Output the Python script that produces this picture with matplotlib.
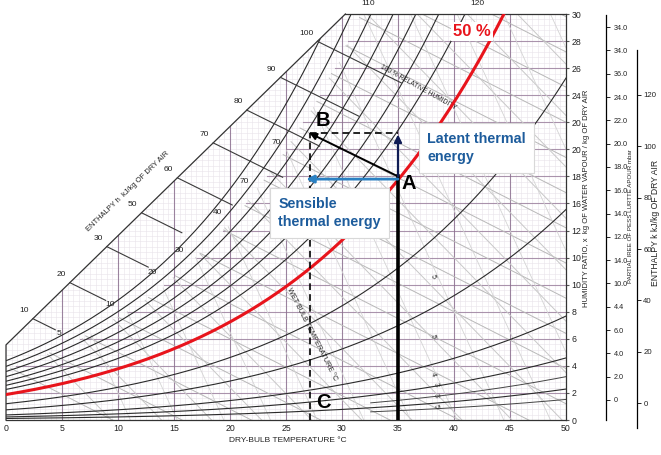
import numpy as np
import matplotlib
matplotlib.use("Agg")
import matplotlib.pyplot as plt
from matplotlib.patches import Polygon

# ---- values ----
temp_ticks = [0, 5, 10, 15, 20, 25, 30, 35, 40, 45, 50]
hum_ticks = [0, 2, 4, 6, 8, 10, 12, 14, 16, 18, 20, 22, 24, 26, 28, 30]
hum_labels = ['0', '2', '4', '6', '8', '10', '10', '12', '16', '18', '20', '20', '24', '26', '28', '30']

rh_black = [3, 6, 10, 20, 32, 60, 68, 76, 85, 95, 105, 116]
rh_red = 50
rh_short = [2.0, 4.2]
short_start_T = 32.5

edge_T = [0, 50, 50, 30.3, 0]
edge_W = [0, 0, 30, 30, 5.55]

enth_labels = ['10', '20', '30', '50', '60', '70', '80', '90', '100']
enth_T = [2.4, 5.7, 9.0, 12.1, 15.3, 18.5, 21.5, 24.5, 27.8]
enth_len = [2.0, 3.2, 3.7, 3.6, 4.9, 6.2, 6.5, 7.0, 7.5]
enth_top_labels = ['110', '120']
enth_top_T = [32.3, 42.1]

wb_labels = ['5', '10', '20', '30', '40', '70', '70']
wb_T = [4.7, 9.3, 13.1, 15.5, 18.9, 21.3, 24.1]
wb_W = [6.4, 8.5, 10.9, 12.5, 15.3, 17.6, 20.5]

small_labels = ['5', '5', '4', '3', '3', '5']
small_T = [38.1, 38.1, 38.1, 38.4, 38.4, 38.4]
small_W = [10.6, 6.2, 3.4, 2.6, 1.8, 1.0]

pp_labels = ['0', '2.0', '4.0', '6.0', '4.4', '10.0', '14.0', '12.0', '14.0',
             '16.0', '18.0', '20.0', '22.0', '24.0', '36.0', '34.0', '34.0']
enth_right_ticks = [0, 20, 40, 60, 80, 100, 120]

point_A = (35, 18)
point_B = (27.1, 21.2)
sensible_W = 17.8

W, H = 661, 455


def fx(px):
    return px / W


def fy(py):
    return 1 - py / H


def w_rh(T, rh):
    pws = 0.61094 * np.exp(17.625 * T / (T + 243.04))
    pw = rh / 100 * pws
    return 622 * pw / (101.325 - pw)


def w_edge(T):
    return edge_W[4] + (edge_W[3] - edge_W[4]) / edge_T[3] * T


plt.rcParams['font.family'] = ['Liberation Sans', 'DejaVu Sans']
fig = plt.figure(figsize=(W / 100, H / 100), dpi=100)
ax = fig.add_axes([fx(6), 1 - 420 / H, 560 / W, 406 / H])
ax.set_xlim(0, 50)
ax.set_ylim(0, 30)

clip = Polygon(np.column_stack([edge_T, edge_W]), closed=True, transform=ax.transData,
               facecolor='none', edgecolor='none')
ax.add_patch(clip)


def clipped(artists):
    for a in artists:
        a.set_clip_path(clip)


T = np.linspace(0, 50, 500)
w_sat = w_rh(T, 100)


def below_sat(w):
    return np.where(w <= w_sat, w, np.nan)


# fine background mesh
clipped([ax.vlines(np.arange(0, 50, 0.5), 0, 30, color='#e8e4ea', lw=0.4)])
clipped([ax.hlines(np.arange(0, 30, 0.4), 0, 50, color='#e8e4ea', lw=0.4)])

# purple main grid
clipped([ax.vlines(temp_ticks[1:-1], 0, 30, color='#7e5f82', lw=0.8, alpha=0.75)])
for w in hum_ticks[1:-1]:
    clipped(ax.plot(T, below_sat(np.full_like(T, w)), color='#8c6d8f', lw=0.8, alpha=0.7))

# gray line families (below saturation)
for c in np.arange(4, 60, 2.6):
    clipped(ax.plot(T, below_sat(c - 0.42 * T), color='#b8b8b8', lw=0.7))
for c in np.arange(8, 75, 3.8):
    clipped(ax.plot(T, below_sat(c - 0.85 * T), color='#c8c8c8', lw=0.7))
for c in np.arange(20, 120, 7.5):
    clipped(ax.plot(T, below_sat(c - 1.8 * T), color='#d4d4d4', lw=0.6))

# relative humidity curves
for rh in rh_black:
    clipped(ax.plot(T, w_rh(T, rh), color='#2a2a2a', lw=0.8))
Ts = T[T >= short_start_T]
for rh in rh_short:
    clipped(ax.plot(Ts, w_rh(Ts, rh), color='#444444', lw=0.7))
clipped(ax.plot(T, w_rh(T, rh_red), color='#e8141c', lw=2.2, zorder=5))

# chart boundary
ax.plot([edge_T[3], edge_T[4], 0], [edge_W[3], edge_W[4], 0], color='#333333', lw=0.9, clip_on=False)
ax.plot([edge_T[3], 50], [30, 30], color='#333333', lw=0.9, clip_on=False)
for side in ['left', 'top']:
    ax.spines[side].set_visible(False)
for side in ['right', 'bottom']:
    ax.spines[side].set_linewidth(0.9)
    ax.spines[side].set_color('#333333')

# enthalpy scale on the diagonal
for lab, t0, ln in zip(enth_labels, enth_T, enth_len):
    w0 = w_edge(t0)
    ax.plot([t0, t0 + ln], [w0, w0 - 0.41 * ln], color='#3a3a3a', lw=0.8)
    ax.text(t0 - 0.35, w0 + 0.35, lab, fontsize=6, ha='right', va='bottom', color='#222222')
for lab, t0 in zip(enth_top_labels, enth_top_T):
    ax.text(t0, 30.5, lab, fontsize=6, ha='center', va='bottom', color='#222222', clip_on=False)
for lab, t0, w0 in zip(wb_labels, wb_T, wb_W):
    ax.text(t0, w0, lab, fontsize=6, ha='center', va='center', color='#222222')
for lab, t0, w0 in zip(small_labels, small_T, small_W):
    ax.text(t0, w0, lab, fontsize=5, ha='center', va='center', rotation=-75, color='#222222')

ax.text(10.9, 16.9, 'ENTHALPY h  kJ/kg OF DRY AIR', fontsize=5.4, rotation=44,
        ha='center', va='center', color='#222222')
ax.text(36.8, 24.6, '100 % RELATIVE HUMIDITY', fontsize=4.8, rotation=-29,
        ha='center', va='center', color='#222222')
ax.text(27.3, 6.3, 'WET BULB TEMPERATURE °C', fontsize=5.2, rotation=-63,
        ha='center', va='center', color='#222222')

# process lines
Ax, Ay = point_A
Bx, By = point_B
ax.plot([Bx, Ax], [By, By], color='black', lw=1.2, ls=(0, (4, 2.5)), zorder=6)
ax.plot([Bx, Bx], [0, By], color='black', lw=1.2, ls=(0, (4, 2.5)), zorder=6)
ax.plot([Ax, Ax], [0, Ay], color='black', lw=2.6, zorder=6)
ax.annotate('', xy=(Bx, By), xytext=(Ax, Ay),
            arrowprops=dict(arrowstyle='-|>', color='black', lw=1.4, mutation_scale=10,
                            shrinkA=0, shrinkB=0), zorder=7)
ax.annotate('', xy=(Ax, By - 0.1), xytext=(Ax, Ay),
            arrowprops=dict(arrowstyle='-|>', color='#101c55', lw=1.6, mutation_scale=11,
                            shrinkA=0, shrinkB=0), zorder=7)
ax.annotate('', xy=(Bx - 0.3, sensible_W), xytext=(Ax, sensible_W),
            arrowprops=dict(arrowstyle='-|>', color='#2a80c2', lw=2.0, mutation_scale=11,
                            shrinkA=0, shrinkB=0), zorder=7)

letter = dict(fontsize=14.5, fontweight='bold', color='black', ha='center', va='center', zorder=8)
ax.text(Ax + 0.95, Ay - 0.55, 'A', **letter)
ax.text(Bx + 1.15, By + 0.95, 'B', **letter)
ax.text(Bx + 1.2, 1.3, 'C', **letter)

ax.text(41.6, 28.7, '50 %', fontsize=12, fontweight='bold', color='#e8141c',
        ha='center', va='center', zorder=8,
        bbox=dict(facecolor='white', edgecolor='none', pad=1.5))

box = dict(facecolor='white', edgecolor='#d8d8d8', lw=0.8, boxstyle='square,pad=0.6')
ax.text(37.6, 20.1, 'Latent thermal\nenergy', fontsize=10.3, fontweight='bold',
        color='#1d5c9c', ha='left', va='center', linespacing=1.4, zorder=9, bbox=box)
ax.text(24.3, 15.3, 'Sensible\nthermal energy', fontsize=10.3, fontweight='bold',
        color='#1d5c9c', ha='left', va='center', linespacing=1.4, zorder=9, bbox=box)

# axis ticks
ax.set_xticks(temp_ticks)
ax.set_xticklabels([str(t) for t in temp_ticks], fontsize=6.3, color='#222222')
ax.tick_params(axis='x', length=0, pad=3)
ax.yaxis.tick_right()
ax.set_yticks(hum_ticks)
ax.set_yticklabels(hum_labels, fontsize=6.3, color='#222222')
ax.tick_params(axis='y', length=2, pad=2, color='#555555')

fig.text(fx(288), fy(441), 'DRY-BULB TEMPERATURE °C', fontsize=6, ha='center', va='center',
         color='#222222')
fig.text(fx(587), fy(198), 'HUMIDITY RATIO, x  kg OF WATER VAPOUR / kg OF DRY AIR', fontsize=5.5,
         rotation=90, ha='center', va='center', color='#222222')

# partial pressure scale
ax2 = fig.add_axes([fx(606), 1 - 420 / H, 0.0001, 405 / H])
for side in ['left', 'top', 'bottom']:
    ax2.spines[side].set_visible(False)
ax2.spines['right'].set_linewidth(0.9)
ax2.set_xticks([])
ax2.yaxis.tick_right()
ax2.set_ylim(-0.86, 16.52)
ax2.set_yticks(range(len(pp_labels)))
ax2.set_yticklabels(pp_labels, fontsize=5.2, color='#222222')
ax2.tick_params(axis='y', length=3, pad=2.5, width=0.6)
fig.text(fx(631), fy(216), 'PARTIAL IREE OF PESS LURTTE APOUR mbar', fontsize=4.4,
         rotation=90, ha='center', va='center', color='#222222')

# enthalpy scale right
ax3 = fig.add_axes([fx(637), 1 - 428 / H, 0.0001, 378 / H])
for side in ['left', 'top', 'bottom']:
    ax3.spines[side].set_visible(False)
ax3.spines['right'].set_linewidth(0.9)
ax3.set_xticks([])
ax3.yaxis.tick_right()
ax3.set_ylim(-9.7, 137.5)
ax3.set_yticks(enth_right_ticks)
ax3.set_yticklabels([str(v) for v in enth_right_ticks], fontsize=5.6, color='#222222')
ax3.tick_params(axis='y', length=3, pad=1.5, width=0.6)
fig.text(fx(655), fy(223), 'ENTHALPY k kJ/kg OF DRY AIR', fontsize=6.2,
         rotation=90, ha='center', va='center', color='#222222')

fig.savefig('out.png', dpi=100)
